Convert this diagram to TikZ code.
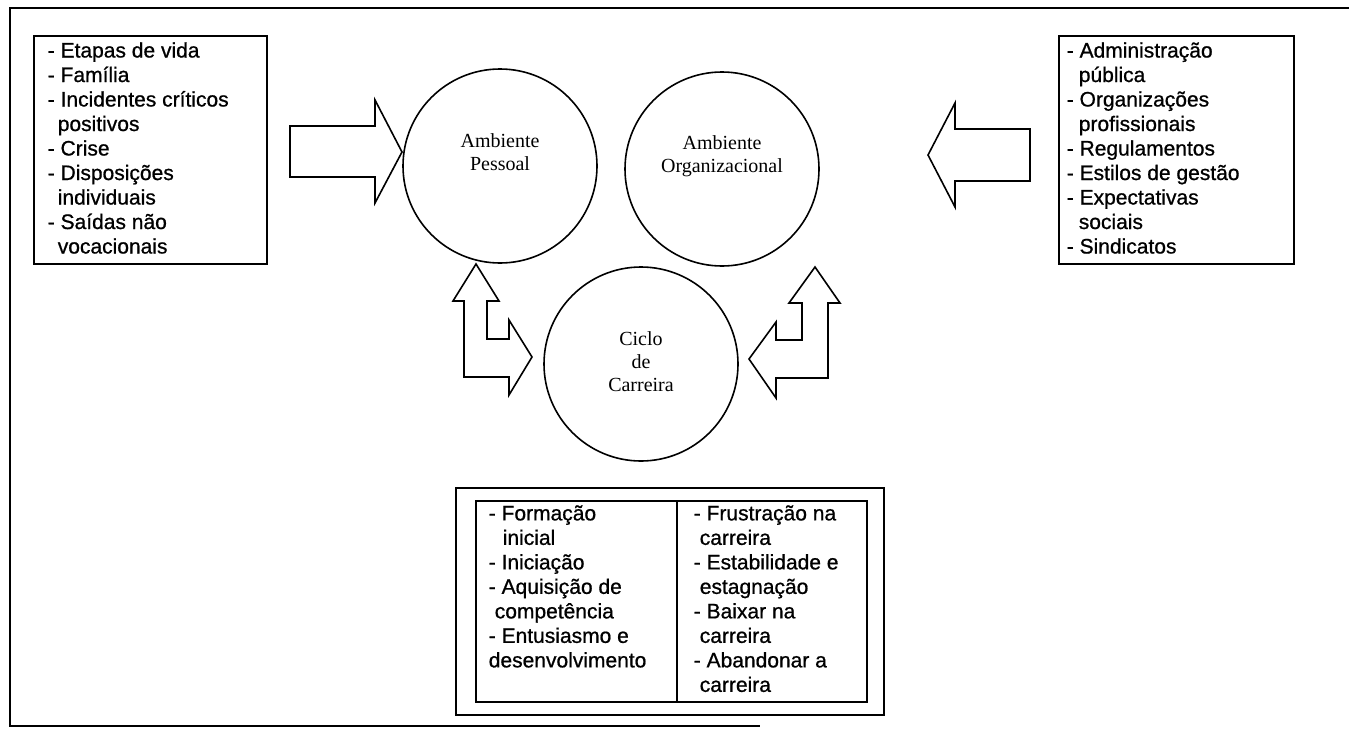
\documentclass[tikz,border=0pt]{standalone}
\usepackage{fontspec}
\setmainfont{Liberation Serif}
\newfontfamily\arialf[FakeBold=0.8]{Liberation Sans}
\begin{document}
\begin{tikzpicture}[x=1pt,y=-1pt,line width=1.6pt,line join=miter,
  boxx/.style={draw,rectangle,inner sep=0pt,anchor=north west},
  circ/.style={draw,circle,minimum size=194pt,inner sep=0pt},
  stxt/.style={anchor=north west,inner sep=0pt,align=left,font=\arialf\fontsize{21}{24.5}\selectfont},
  ctxt/.style={anchor=north,inner sep=0pt,align=center,font=\fontsize{20}{23}\selectfont},
  blockarrow/.style={draw,line width=1.6pt,line join=miter}]
\useasboundingbox (0,0) rectangle (1349,731);
% outer frame
\coordinate (f1) at (1349,8);
\coordinate (f2) at (10,8);
\coordinate (f3) at (10,726);
\coordinate (f4) at (760,726);
\draw (f1) -- (f2) -- (f3) -- (f4);
% left box
\node[boxx,minimum width=233pt,minimum height=228pt] (lbox) at (33,35) {};
\node[stxt] (ltext) at (47,41.5) {- Etapas de vida\\- Família\\- Incidentes críticos\\\hspace*{10pt}positivos\\- Crise\\- Disposições\\\hspace*{10pt}individuais\\- Saídas não\\\hspace*{10pt}vocacionais};
% right box
\node[boxx,minimum width=235pt,minimum height=228pt] (rbox) at (1058,35) {};
\node[stxt] (rtext) at (1066,41.5) {- Administração\\\hspace*{12pt}pública\\- Organizações\\\hspace*{12pt}profissionais\\- Regulamentos\\- Estilos de gestão\\- Expectativas\\\hspace*{12pt}sociais\\- Sindicatos};
% circles
\node[circ] (pessoal) at (500,166) {};
\node[ctxt] (tpess) at (500,132.5) {Ambiente\\Pessoal};
\node[circ] (organiz) at (722,169) {};
\node[ctxt] (torg) at (722,135) {Ambiente\\Organizacional};
\node[circ] (ciclo) at (641,364) {};
\node[ctxt] (tciclo) at (641,331) {Ciclo\\de\\Carreira};
% big arrows
\draw[blockarrow] (290,126) -- (375,126) -- (375,100) -- (402,152) -- (375,203) -- (375,177) -- (290,177) -- cycle;
\draw[blockarrow] (1030,129) -- (955,129) -- (955,103) -- (928,155) -- (955,207) -- (955,181) -- (1030,181) -- cycle;
% L arrows
\draw[blockarrow] (464,377) -- (509,377) -- (509,395) -- (532,357) -- (509,320) -- (509,339) -- (487,339) -- (487,301) -- (499,301) -- (476,264) -- (453,301) -- (464,301) -- cycle;
\draw[blockarrow] (828,378) -- (776,378) -- (776,398) -- (749,359) -- (776,322) -- (776,340) -- (802,340) -- (802,303) -- (789,303) -- (815,267) -- (840,303) -- (828,303) -- cycle;
% bottom table
\node[boxx,minimum width=428pt,minimum height=227pt] (tout) at (455,487) {};
\node[boxx,minimum width=391pt,minimum height=201pt] (tin) at (475,500) {};
\draw (677,500) -- (677,701);
\node[stxt] (ttl) at (488,504.5) {- Formação\\\hspace*{14pt}inicial\\- Iniciação\\- Aquisição de\\\hspace*{6pt}competência\\- Entusiasmo e\\desenvolvimento};
\node[stxt] (ttr) at (693,504.5) {- Frustração na\\\hspace*{6pt}carreira\\- Estabilidade e\\\hspace*{6pt}estagnação\\- Baixar na\\\hspace*{6pt}carreira\\- Abandonar a\\\hspace*{6pt}carreira};
\end{tikzpicture}
\end{document}
